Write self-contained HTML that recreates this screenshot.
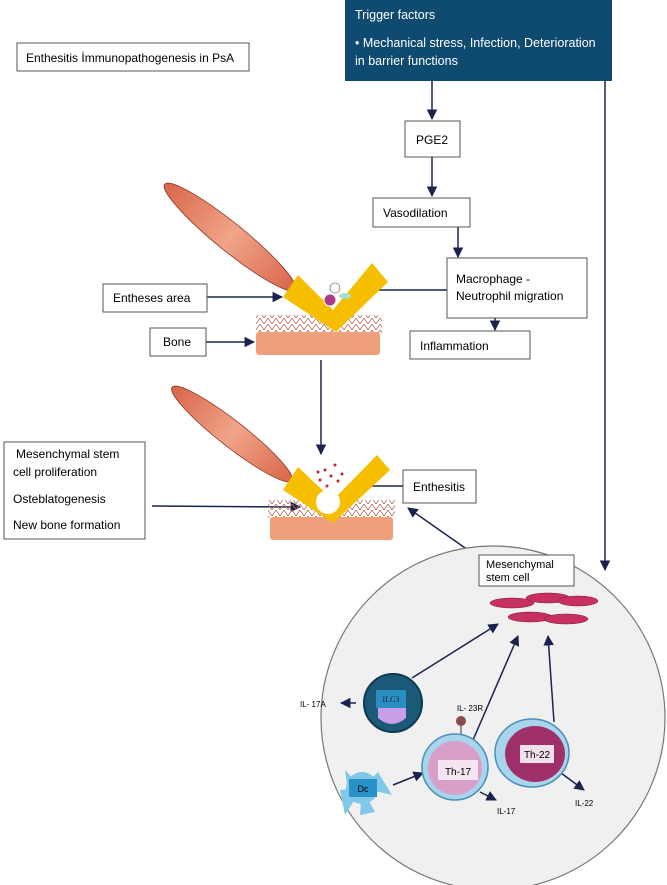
<!DOCTYPE html>
<html><head><meta charset="utf-8"><style>
html,body{margin:0;padding:0;background:#fff;}
svg{display:block;font-family:"Liberation Sans",sans-serif;}
</style></head><body>
<svg width="667" height="885" viewBox="0 0 667 885" xmlns="http://www.w3.org/2000/svg">
<defs>
<marker id="a" viewBox="0 0 10 10" refX="9" refY="5" markerWidth="7" markerHeight="7" orient="auto"><path d="M0,0 L10,5 L0,10 z" fill="#1a2350"/></marker>
<pattern id="h" width="8" height="6" patternUnits="userSpaceOnUse"><path d="M0,6 L4,0 L8,6" fill="none" stroke="#b86a5a" stroke-width="0.8"/></pattern>
<linearGradient id="m" x1="0" y1="0" x2="1" y2="0"><stop offset="0" stop-color="#d9654a"/><stop offset="0.5" stop-color="#f0a488"/><stop offset="1" stop-color="#d9654a"/></linearGradient>
</defs>

<rect x="17" y="43" width="232" height="28" fill="#fff" stroke="#555"/>
<text x="26" y="62" font-size="12">Enthesitis İmmunopathogenesis in PsA</text>

<rect x="345" y="0" width="267" height="81" fill="#0f4a70"/>
<text x="355" y="19" font-size="12.5" fill="#fff">Trigger factors</text>
<text x="355" y="47" font-size="12.5" fill="#fff">• Mechanical stress, Infection, Deterioration</text>
<text x="355" y="65" font-size="12.5" fill="#fff">in barrier functions</text>

<g stroke="#1a2350" stroke-width="1.5" fill="none" marker-end="url(#a)">
<line x1="432" y1="81" x2="432" y2="119"/>
<line x1="432" y1="157" x2="432" y2="196"/>
<line x1="458" y1="227" x2="458" y2="257"/>
<line x1="447" y1="290" x2="352" y2="290"/>
<line x1="495" y1="318" x2="495" y2="330"/>
<line x1="605" y1="81" x2="605" y2="570"/>
<line x1="207" y1="297" x2="282" y2="297"/>
<line x1="206" y1="342" x2="254" y2="342"/>
<line x1="321" y1="360" x2="321" y2="454"/>
<line x1="403" y1="486" x2="350" y2="486"/>
<line x1="152" y1="506" x2="300" y2="507"/>
<line x1="468" y1="550" x2="408" y2="508"/>
</g>

<rect x="405" y="121" width="55" height="36" fill="#fff" stroke="#555"/>
<text x="432" y="144" font-size="12" text-anchor="middle">PGE2</text>
<rect x="373" y="198" width="97" height="29" fill="#fff" stroke="#555"/>
<text x="383" y="217" font-size="12">Vasodilation</text>
<rect x="447" y="258" width="140" height="60" fill="#fff" stroke="#555"/>
<text x="456" y="283" font-size="12">Macrophage -</text>
<text x="456" y="300" font-size="12">Neutrophil migration</text>
<rect x="410" y="331" width="120" height="28" fill="#fff" stroke="#555"/>
<text x="420" y="350" font-size="12">Inflammation</text>
<rect x="103" y="284" width="104" height="28" fill="#fff" stroke="#555"/>
<text x="113" y="302" font-size="12">Entheses area</text>
<rect x="150" y="328" width="56" height="28" fill="#fff" stroke="#555"/>
<text x="163" y="346" font-size="12">Bone</text>
<rect x="403" y="470" width="73" height="33" fill="#fff" stroke="#555"/>
<text x="413" y="491" font-size="12">Enthesitis</text>
<rect x="4" y="442" width="141" height="97" fill="#fff" stroke="#555"/>
<text x="16" y="458" font-size="12">Mesenchymal stem</text>
<text x="13" y="476" font-size="12">cell proliferation</text>
<text x="13" y="503" font-size="12">Osteblatogenesis</text>
<text x="13" y="529" font-size="12">New bone formation</text>

<!-- enthesis 1 -->
<ellipse cx="230" cy="237" rx="84" ry="14" transform="rotate(39 230 237)" fill="url(#m)" stroke="#8a3a2a" stroke-width="0.8"/>
<rect x="256" y="315" width="126" height="18" fill="url(#h)"/>
<rect x="256" y="332" width="124" height="23" rx="3" fill="#eda07a"/>
<polygon points="283,297 298,275 333,310 372,263 388,282 336,332" fill="#f5bf00"/>
<circle cx="330" cy="300" r="6" fill="#b03a8a" stroke="#fff"/>
<circle cx="335" cy="288" r="5" fill="#fff" stroke="#555" stroke-width="0.6"/>
<ellipse cx="345" cy="296" rx="6" ry="3" fill="#a8e0d0"/>

<!-- enthesis 2 -->
<ellipse cx="232" cy="434" rx="76" ry="13" transform="rotate(38 232 434)" fill="url(#m)" stroke="#8a3a2a" stroke-width="0.8"/>
<rect x="268" y="500" width="127" height="18" fill="url(#h)"/>
<rect x="270" y="517" width="123" height="23" rx="3" fill="#eda07a"/>
<polygon points="283,490 298,467 333,500 377,455 390,470 333,523" fill="#f5bf00"/>
<circle cx="328" cy="502" r="12" fill="#fff"/>
<g fill="#d0202a"><circle cx="325" cy="470" r="1.5"/><circle cx="331" cy="476" r="1.5"/><circle cx="320" cy="480" r="1.5"/><circle cx="338" cy="481" r="1.5"/><circle cx="327" cy="486" r="1.5"/><circle cx="342" cy="474" r="1.5"/><circle cx="335" cy="465" r="1.5"/><circle cx="318" cy="472" r="1.5"/></g>

<circle cx="493" cy="718" r="172" fill="#f0f0f0" stroke="#777" stroke-width="1.2"/>
<rect x="479" y="555" width="95" height="31" fill="#fff" stroke="#555"/>
<text x="486" y="568" font-size="11">Mesenchymal</text>
<text x="486" y="581" font-size="11">stem cell</text>

<g fill="#c83060" stroke="#7a1a3a" stroke-width="0.5">
<ellipse cx="512" cy="603" rx="22" ry="5"/><ellipse cx="548" cy="598" rx="22" ry="5"/><ellipse cx="578" cy="601" rx="20" ry="5"/><ellipse cx="530" cy="617" rx="22" ry="5"/><ellipse cx="566" cy="619" rx="22" ry="5"/>
</g>

<g stroke="#1a2350" stroke-width="1.5" fill="none" marker-end="url(#a)">
<line x1="412" y1="678" x2="498" y2="624"/>
<line x1="473" y1="740" x2="518" y2="636"/>
<line x1="554" y1="722" x2="548" y2="636"/>
<line x1="393" y1="785" x2="423" y2="773"/>
<line x1="480" y1="792" x2="496" y2="800"/>
<line x1="561" y1="773" x2="584" y2="790"/>
<line x1="356" y1="703" x2="341" y2="703"/>
</g>

<circle cx="393" cy="703" r="29" fill="#1a5a78" stroke="#0e3a50" stroke-width="2"/>
<rect x="376" y="690" width="30" height="18" fill="#2a8ec0"/>
<path d="M378,708 h28 v10 q-14,12 -28,0z" fill="#c9a0e8"/>
<text x="391" y="702" font-size="8" fill="#123" text-anchor="middle" font-family="Liberation Serif,serif">ILC3</text>
<g fill="#80c8e8"><circle cx="362" cy="788" r="16"/><path d="M345,770 L362,788 L350,805 z M378,772 L362,788 L392,795 z M340,790 L362,788 L345,815 z M362,788 L375,812 L360,815 z"/></g>
<rect x="349" y="779" width="28" height="18" fill="#2a90c8"/>
<text x="363" y="792" font-size="9" text-anchor="middle">Dc</text>
<circle cx="455" cy="767" r="33" fill="#a8d4ec" stroke="#4a90b8" stroke-width="1.5"/>
<circle cx="455" cy="768" r="27" fill="#d8a0c8"/>
<rect x="438" y="760" width="40" height="20" fill="#f4e6f0"/>
<text x="458" y="775" font-size="10" text-anchor="middle">Th-17</text>
<line x1="461" y1="734" x2="461" y2="725" stroke="#333"/>
<circle cx="461" cy="721" r="5" fill="#8a4a50"/>
<text x="470" y="711" font-size="8" text-anchor="middle">IL- 23R</text>
<ellipse cx="532" cy="753" rx="37" ry="34" fill="#a8d4ec" stroke="#4a90b8" stroke-width="1.5"/>
<ellipse cx="535" cy="754" rx="30" ry="28" fill="#a0306a"/>
<rect x="520" y="745" width="34" height="18" fill="#f0e0ea"/>
<text x="537" y="758" font-size="10" text-anchor="middle">Th-22</text>

<text x="300" y="707" font-size="8">IL- 17A</text>
<text x="497" y="814" font-size="8">IL-17</text>
<text x="575" y="806" font-size="8">IL-22</text>
</svg>
</body></html>
